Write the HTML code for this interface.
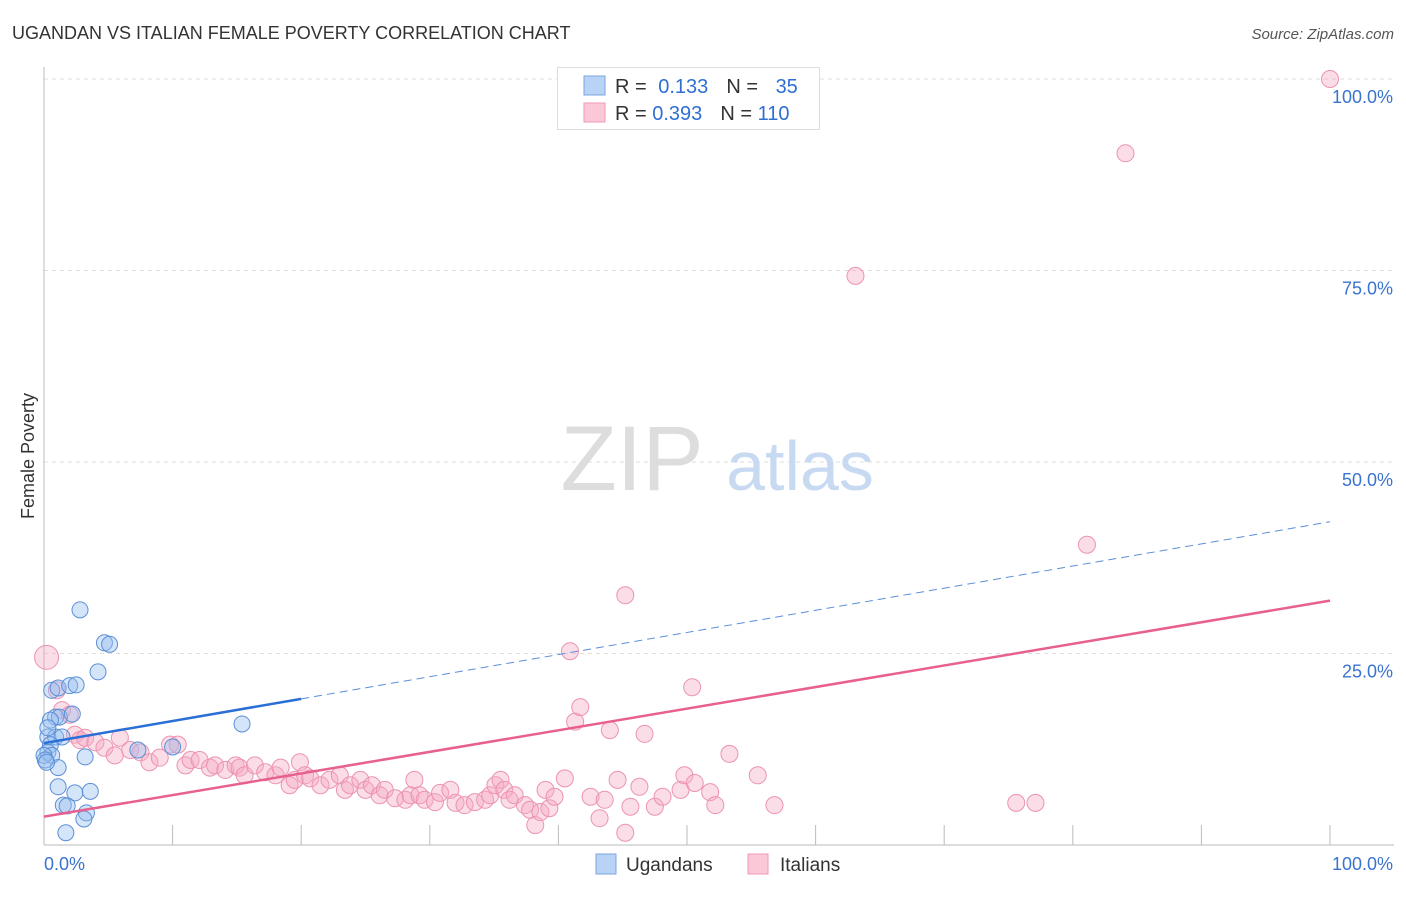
<!DOCTYPE html>
<html><head><meta charset="utf-8"><style>
body{margin:0;background:#fff;font-family:"Liberation Sans",sans-serif;}
svg text{font-family:"Liberation Sans",sans-serif;}
</style></head><body>
<svg id="chart" width="1406" height="892" xmlns="http://www.w3.org/2000/svg">
<text x="12" y="39" font-size="18" fill="#333">UGANDAN VS ITALIAN FEMALE POVERTY CORRELATION CHART</text>
<text x="1394" y="39" font-size="15" fill="#555" font-style="italic" text-anchor="end">Source: ZipAtlas.com</text>
<text x="34" y="456" font-size="18" fill="#333" transform="rotate(-90 34 456)" text-anchor="middle">Female Poverty</text>
<g id="grid"></g>
<g><text x="632" y="490" font-size="92" fill="#ddd" font-family="Liberation Serif,serif" text-anchor="middle">ZIP</text><text x="800" y="490" font-size="70" fill="#c8daf2" text-anchor="middle">atlas</text></g>
<g id="marks"></g>
<g>
<rect x="557.5" y="67.5" width="262" height="62" fill="#fff" stroke="#ddd"/>
<rect x="584" y="76" width="21" height="19" fill="#b8d3f5" stroke="#7aa6e0"/>
<rect x="584" y="103" width="21" height="19" fill="#fbc8d8" stroke="#ef9ab6"/>
<text x="615" y="93" font-size="20" fill="#333">R = <tspan fill="#2f6fd1" dx="6">0.133</tspan><tspan fill="#333" dx="18">N = </tspan><tspan fill="#2f6fd1" dx="12">35</tspan></text>
<text x="615" y="120" font-size="20" fill="#333">R = <tspan fill="#2f6fd1">0.393</tspan><tspan fill="#333" dx="18">N = </tspan><tspan fill="#2f6fd1">110</tspan></text>
</g>
<g>
<rect x="596" y="854" width="20" height="20" fill="#b8d3f5" stroke="#7aa6e0"/>
<text x="626" y="871" font-size="19" fill="#333">Ugandans</text>
<rect x="748" y="854" width="20" height="20" fill="#fbc8d8" stroke="#ef9ab6"/>
<text x="780" y="871" font-size="19" fill="#333">Italians</text>
</g>
</svg>
<script>
const yTicks=[25,50,75,100];
const yTickLabels=["25.0%","50.0%","75.0%","100.0%"];
const xTicks=[0,10,20,30,40,50,60,70,80,90,100];
const blueX=[0.6,1.1,2.0,2.5,2.8,4.7,5.1,4.2,0.9,1.2,2.2,0.5,0.3,0.9,1.4,0.5,0.3,0.6,1.1,3.2,1.1,2.4,3.6,1.5,1.8,3.3,3.1,1.7,0,0.1,7.3,10.0,15.4,0.3,0.2];
const blueY=[20.2,20.5,20.8,20.9,30.7,26.4,26.2,22.6,16.7,16.7,17.1,16.3,14.1,14.1,14.1,13.1,12.1,11.7,10.1,11.5,7.6,6.8,7.0,5.2,5.1,4.2,3.4,1.6,11.7,11.1,12.4,12.8,15.8,15.3,10.8];
const pinkX=[0.2,1.0,1.4,2.0,2.4,2.8,3.2,4.0,4.7,5.5,5.9,6.7,7.5,8.2,9.0,9.8,10.4,11.0,11.4,12.1,12.9,13.3,14.1,14.9,15.2,15.6,16.4,17.2,18.0,18.4,19.1,19.5,19.9,20.3,20.7,21.5,22.2,23.0,23.4,23.8,24.6,25.0,25.5,26.1,26.5,27.3,28.1,28.5,28.8,29.2,29.6,30.4,30.8,31.6,32.0,32.7,33.5,34.3,34.7,35.1,35.5,35.8,36.2,36.6,37.4,37.8,38.2,38.6,39.0,39.3,39.7,40.5,40.9,41.3,41.7,42.5,43.2,43.6,44.0,44.6,45.2,45.2,45.6,46.3,46.7,47.5,48.1,49.5,49.8,50.4,50.6,51.8,52.2,53.3,55.5,56.8,63.1,75.6,77.1,81.1,84.1,100];
const pinkY=[24.5,20.2,17.6,17.0,14.4,13.7,14.0,13.4,12.7,11.7,14.0,12.4,12.1,10.8,11.4,13.1,13.1,10.4,11.1,11.1,10.1,10.4,9.8,10.4,10.1,9.1,10.4,9.5,9.1,10.1,7.8,8.5,10.8,9.1,8.7,7.8,8.5,9.1,7.2,7.8,8.5,7.2,7.8,6.5,7.2,6.1,5.9,6.5,8.5,6.5,5.9,5.6,6.8,7.2,5.5,5.2,5.6,5.9,6.5,7.8,8.5,7.2,5.9,6.5,5.2,4.6,2.6,4.3,7.2,4.8,6.3,8.7,25.3,16.1,18.0,6.3,3.5,5.9,15.0,8.5,32.6,1.6,5.0,7.6,14.5,5.0,6.3,7.2,9.1,20.6,8.1,6.9,5.2,11.9,9.1,5.2,74.3,5.5,5.5,39.2,90.3,100];
const blueTrend=[13.3,42.2]; // y at x=0 and x=100
const pinkTrend=[3.7,31.9];
const X0=44,X1=1330,Y0=845,Y100=79;
const sx=v=>X0+(X1-X0)*v/100;
const sy=v=>Y0-(Y0-Y100)*v/100;
const NS="http://www.w3.org/2000/svg";
function mk(t,a,p){const e=document.createElementNS(NS,t);for(const k in a)e.setAttribute(k,a[k]);p.appendChild(e);return e;}
const grid=document.getElementById('grid');
yTicks.forEach((v,i)=>{
 const l=mk('line',{x1:X0,x2:1394,y1:sy(v),y2:sy(v),stroke:'#ddd','stroke-dasharray':'4,4'},grid);
 
 
 const t=mk('text',{x:1393,y:sy(v)+24,'font-size':18,fill:'#3a73cf','text-anchor':'end'},grid);
 t.textContent=yTickLabels[i];
 
 
});
const ax=mk('line',{x1:X0,x2:X0,y1:67,y2:Y0,stroke:'#bbb'},grid);


const bx=mk('line',{x1:X0,x2:1394,y1:Y0,y2:Y0,stroke:'#bbb'},grid);


xTicks.forEach(v=>{
 const t=mk('line',{x1:sx(v),x2:sx(v),y1:Y0-20,y2:Y0,stroke:'#bbb'},grid);
 
 
});
const xl=mk('text',{x:44,y:870,'font-size':18,fill:'#3a73cf'},grid);xl.textContent='0.0%';


const xr=mk('text',{x:1393,y:870,'font-size':18,fill:'#3a73cf','text-anchor':'end'},grid);xr.textContent='100.0%';


const marks=document.getElementById('marks');
pinkX.forEach((x,i)=>{
 const c=mk('circle',{cx:sx(x),cy:sy(pinkY[i]),r:(i===0?12:8.5),fill:'rgba(246,170,196,0.4)',stroke:'#ec93b2','stroke-width':1},marks);
 
 
});
blueX.forEach((x,i)=>{
 const c=mk('circle',{cx:sx(x),cy:sy(blueY[i]),r:8,fill:'rgba(150,190,240,0.4)',stroke:'#5b8fd6','stroke-width':1},marks);
 
 
});
const pt=mk('line',{x1:sx(0),y1:sy(pinkTrend[0]),x2:sx(100),y2:sy(pinkTrend[1]),stroke:'#e8608d','stroke-width':2.5},marks);


const bAt=x=>blueTrend[0]+(blueTrend[1]-blueTrend[0])*x/100;
const bd=mk('line',{x1:sx(20),y1:sy(bAt(20)),x2:sx(100),y2:sy(bAt(100)),stroke:'#5b8fd6','stroke-width':1,'stroke-dasharray':'8,5'},marks);


const bs=mk('line',{x1:sx(0),y1:sy(bAt(0)),x2:sx(20),y2:sy(bAt(20)),stroke:'#2a6fd6','stroke-width':2.5},marks);


</script>
</body></html>
